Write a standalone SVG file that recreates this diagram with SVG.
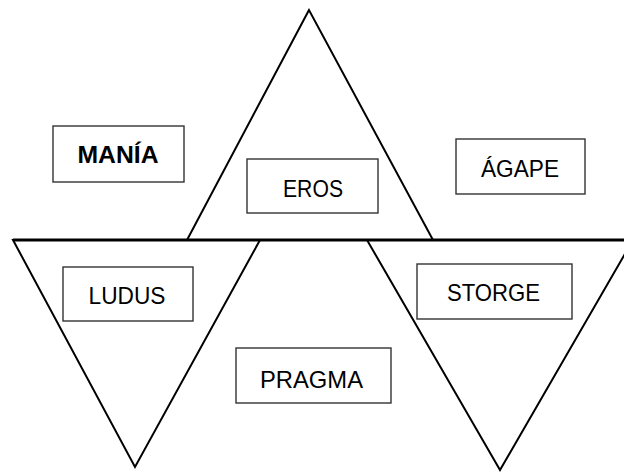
<svg xmlns="http://www.w3.org/2000/svg" width="624" height="473" viewBox="0 0 624 473">
  <style>
    .tri { fill: none; stroke: #000; stroke-width: 2; stroke-linejoin: miter; }
    .base { stroke: #000; stroke-width: 3; }
    .box { fill: #fff; stroke: #333; stroke-width: 1.4; }
    .lbl { font-family: "Liberation Sans", Arial, sans-serif; font-size: 24px; fill: #000; text-anchor: middle; }
    .bold { font-weight: bold; }
  </style>
  <rect x="0" y="0" width="624" height="473" fill="#fff"/>
  <g id="shapes">
    <polygon class="tri" points="309,10 187,240 433,240"/>
    <polygon class="tri" points="13,240 260,240 135,467"/>
    <polygon class="tri" points="367,240 633,240 500,470"/>
    <line class="base" x1="13" y1="240" x2="624" y2="240"/>
  </g>
  <g id="connectors"></g>
  <g id="mania">
    <rect class="box" x="53" y="126" width="131" height="56"/>
    <text class="lbl bold" x="118" y="163" textLength="81" lengthAdjust="spacingAndGlyphs">MANÍA</text>
  </g>
  <g id="eros">
    <rect class="box" x="247" y="159" width="131" height="54"/>
    <text class="lbl" x="313" y="197" textLength="60" lengthAdjust="spacingAndGlyphs">EROS</text>
  </g>
  <g id="agape">
    <rect class="box" x="456" y="139" width="129" height="55"/>
    <text class="lbl" x="520" y="177" textLength="78" lengthAdjust="spacingAndGlyphs">ÁGAPE</text>
  </g>
  <g id="ludus">
    <rect class="box" x="63" y="267" width="130" height="54"/>
    <text class="lbl" x="127" y="304" textLength="77" lengthAdjust="spacingAndGlyphs">LUDUS</text>
  </g>
  <g id="storge">
    <rect class="box" x="417" y="264" width="155" height="55"/>
    <text class="lbl" x="493.5" y="301" textLength="93" lengthAdjust="spacingAndGlyphs">STORGE</text>
  </g>
  <g id="pragma">
    <rect class="box" x="236" y="348" width="155" height="55"/>
    <text class="lbl" x="311.5" y="388" textLength="103" lengthAdjust="spacingAndGlyphs">PRAGMA</text>
  </g>
</svg>
